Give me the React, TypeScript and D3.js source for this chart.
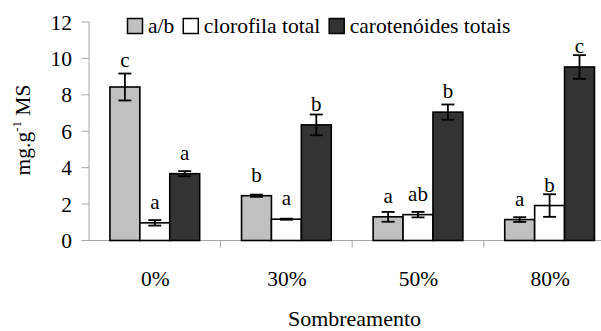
import React, { useEffect, useRef } from "react";
import * as d3 from "d3";

const categories = ["0%", "30%", "50%", "80%"];
const seriesNames = ["a/b", "clorofila total", "carotenóides totais"];
const abValues = [8.43, 2.46, 1.3, 1.15];
const abErrors = [0.74, 0.06, 0.27, 0.13];
const abLetters = ["c", "b", "a", "a"];
const clorValues = [0.97, 1.17, 1.42, 1.92];
const clorErrors = [0.15, 0.03, 0.15, 0.62];
const clorLetters = ["a", "a", "ab", "b"];
const carotValues = [3.67, 6.35, 7.05, 9.53];
const carotErrors = [0.14, 0.57, 0.42, 0.65];
const carotLetters = ["a", "b", "b", "c"];
const yTicks = [0, 2, 4, 6, 8, 10, 12];
const colors = ["#c0c0c0", "#ffffff", "#333333"];

const W = 601;
const H = 331;
const FONT = "'Liberation Serif', 'Times New Roman', serif";

export default function App() {
  const ref = useRef<SVGSVGElement | null>(null);

  useEffect(() => {
    const svg = d3.select(ref.current);
    svg.selectAll("*").remove();

    const series = [
      { name: seriesNames[0], values: abValues, errors: abErrors, letters: abLetters, color: colors[0] },
      { name: seriesNames[1], values: clorValues, errors: clorErrors, letters: clorLetters, color: colors[1] },
      { name: seriesNames[2], values: carotValues, errors: carotErrors, letters: carotLetters, color: colors[2] },
    ];

    const x0 = d3.scaleBand<string>().domain(categories).range([89, 615.4]).padding(0);
    const x1 = d3
      .scaleBand<string>()
      .domain(seriesNames)
      .range([0, x0.bandwidth()])
      .paddingInner(0)
      .paddingOuter(0.7);
    const y = d3.scaleLinear().domain([0, 12]).range([240.5, 22]);

    const axisColor = "#a6a6a6";

    // y axis
    svg.append("line")
      .attr("x1", 89).attr("x2", 89)
      .attr("y1", y(12)).attr("y2", y(0))
      .attr("stroke", axisColor).attr("stroke-width", 1);
    yTicks.forEach((t) => {
      svg.append("line")
        .attr("x1", 81.5).attr("x2", 89)
        .attr("y1", y(t)).attr("y2", y(t))
        .attr("stroke", axisColor).attr("stroke-width", 1);
      svg.append("text")
        .attr("x", 72).attr("y", y(t) + 7.5)
        .attr("text-anchor", "end")
        .style("font-family", FONT).style("font-size", "21.5px")
        .attr("fill", "#000")
        .text(String(t));
    });

    // x axis
    svg.append("line")
      .attr("x1", 89).attr("x2", W)
      .attr("y1", y(0)).attr("y2", y(0))
      .attr("stroke", axisColor).attr("stroke-width", 1);
    categories.forEach((c) => {
      const xb = x0(c)! + x0.bandwidth();
      svg.append("line")
        .attr("x1", xb).attr("x2", xb)
        .attr("y1", y(0)).attr("y2", y(0) + 7)
        .attr("stroke", axisColor).attr("stroke-width", 1);
      svg.append("text")
        .attr("x", x0(c)! + x0.bandwidth() / 2 + 0.5)
        .attr("y", 286)
        .attr("text-anchor", "middle")
        .style("font-family", FONT).style("font-size", "21.5px")
        .text(c);
    });

    // bars
    series.forEach((s) => {
      categories.forEach((c, i) => {
        const bx = x0(c)! + x1(s.name)!;
        const bw = x1.bandwidth();
        const v = s.values[i];
        const e = s.errors[i];
        svg.append("rect")
          .attr("x", bx).attr("y", y(v))
          .attr("width", bw).attr("height", y(0) - y(v))
          .attr("fill", s.color)
          .attr("stroke", "#000").attr("stroke-width", 1.6);
        const cx = bx + bw / 2;
        const g = svg.append("g").attr("stroke", "#000").attr("stroke-width", 1.8);
        g.append("line").attr("x1", cx).attr("x2", cx).attr("y1", y(v + e)).attr("y2", y(v - e));
        g.append("line").attr("x1", cx - 6.5).attr("x2", cx + 6.5).attr("y1", y(v + e)).attr("y2", y(v + e));
        g.append("line").attr("x1", cx - 6.5).attr("x2", cx + 6.5).attr("y1", y(v - e)).attr("y2", y(v - e));
        let ly = y(v) - 14;
        if (ly > y(v + e) - 1) ly = y(v + e) - 7;
        svg.append("text")
          .attr("x", cx).attr("y", ly)
          .attr("text-anchor", "middle")
          .style("font-family", FONT).style("font-size", "21px")
          .text(s.letters[i]);
      });
    });

    // legend
    let lx = 127.5;
    series.forEach((s) => {
      svg.append("rect")
        .attr("x", lx).attr("y", 18.5)
        .attr("width", 15).attr("height", 15)
        .attr("fill", s.color)
        .attr("stroke", "#000").attr("stroke-width", 1.5);
      const t = svg.append("text")
        .attr("x", lx + 20.5).attr("y", 32.5)
        .style("font-family", FONT).style("font-size", "21.5px")
        .text(s.name);
      const len = (t.node() as SVGTextElement).getComputedTextLength();
      lx = lx + 20.5 + len + 9;
    });

    // y title
    const yt = svg.append("text")
      .attr("transform", "translate(29.5,130) rotate(-90)")
      .attr("text-anchor", "middle")
      .style("font-family", FONT).style("font-size", "21.5px");
    yt.append("tspan").text("mg.g");
    yt.append("tspan").style("font-size", "13px").attr("dy", -9).text("-1");
    yt.append("tspan").attr("dy", 9).text(" MS");

    // x title
    svg.append("text")
      .attr("x", 354.5).attr("y", 326)
      .attr("text-anchor", "middle")
      .style("font-family", FONT).style("font-size", "22px")
      .text("Sombreamento");
  }, []);

  return (
    <svg
      ref={ref}
      width={W}
      height={H}
      style={{ position: "absolute", left: 0, top: 0, background: "#fff" }}
    />
  );
}
